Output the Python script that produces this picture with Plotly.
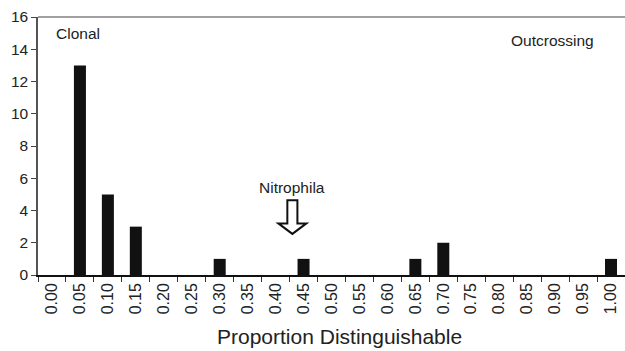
import plotly.graph_objects as go

categories = [f"{i*0.05:.2f}" for i in range(21)]
counts = [0, 13, 5, 3, 0, 0, 1, 0, 0, 1, 0, 0, 0, 1, 2, 0, 0, 0, 0, 0, 1]
y_ticks = [0, 2, 4, 6, 8, 10, 12, 14, 16]

FONT = "Arial, Liberation Sans, Helvetica, sans-serif"

fig = go.Figure()
fig.add_trace(go.Bar(x=categories, y=counts, marker=dict(color="#111111", line=dict(width=0)),
                     showlegend=False))

# Hollow arrow pointing at Nitrophila (category-index coordinates)
ax = 8.6
path = (f"M {ax-0.18},4.64 L {ax+0.18},4.64 L {ax+0.18},3.2 L {ax+0.5},3.2 "
        f"L {ax},2.55 L {ax-0.5},3.2 L {ax-0.18},3.2 Z")
fig.add_shape(type="path", path=path, xref="x", yref="y",
              line=dict(color="#111111", width=2), fillcolor="white")

fig.add_shape(type="line", xref="paper", yref="paper", x0=0, x1=1, y0=1, y1=1,
              line=dict(color="#808080", width=1.5))

fig.add_annotation(x=ax, y=4.64, xref="x", yref="y", text="Nitrophila", showarrow=False,
                   yanchor="bottom", yshift=2, font=dict(size=15.5, color="#222222", family=FONT))
fig.add_annotation(x=0.027, y=0.937, xref="paper", yref="paper", text="Clonal", showarrow=False,
                   xanchor="left", yanchor="middle", font=dict(size=15.5, color="#222222", family=FONT))
fig.add_annotation(x=0.95, y=0.91, xref="paper", yref="paper", text="Outcrossing", showarrow=False,
                   xanchor="right", yanchor="middle", font=dict(size=15.5, color="#222222", family=FONT))
fig.add_annotation(x=0.514, y=0, xref="paper", yref="paper", text="Proportion Distinguishable",
                   showarrow=False, yanchor="middle", yshift=-61,
                   font=dict(size=21, color="#222222", family=FONT))

fig.update_layout(
    width=625, height=351,
    margin=dict(l=38, r=0, t=17, b=76),
    plot_bgcolor="white", paper_bgcolor="white",
    bargap=0.57,
    font=dict(family=FONT, color="#222222"),
    xaxis=dict(type="category", categoryorder="array", categoryarray=categories,
               tickangle=-90, tickson="boundaries", ticks="outside", ticklen=5,
               tickcolor="#333333", showline=True, linecolor="#111111", linewidth=1.5,
               tickfont=dict(size=16, family=FONT), showgrid=False, range=[-0.5, 20.5]),
    yaxis=dict(range=[0, 16], tickvals=y_ticks, ticks="outside", ticklen=5,
               tickcolor="#444444", showline=True, linecolor="#555555", linewidth=1.5,
               tickfont=dict(size=15.5, family=FONT), showgrid=False, zeroline=False),
)

fig.write_html("out.html")
